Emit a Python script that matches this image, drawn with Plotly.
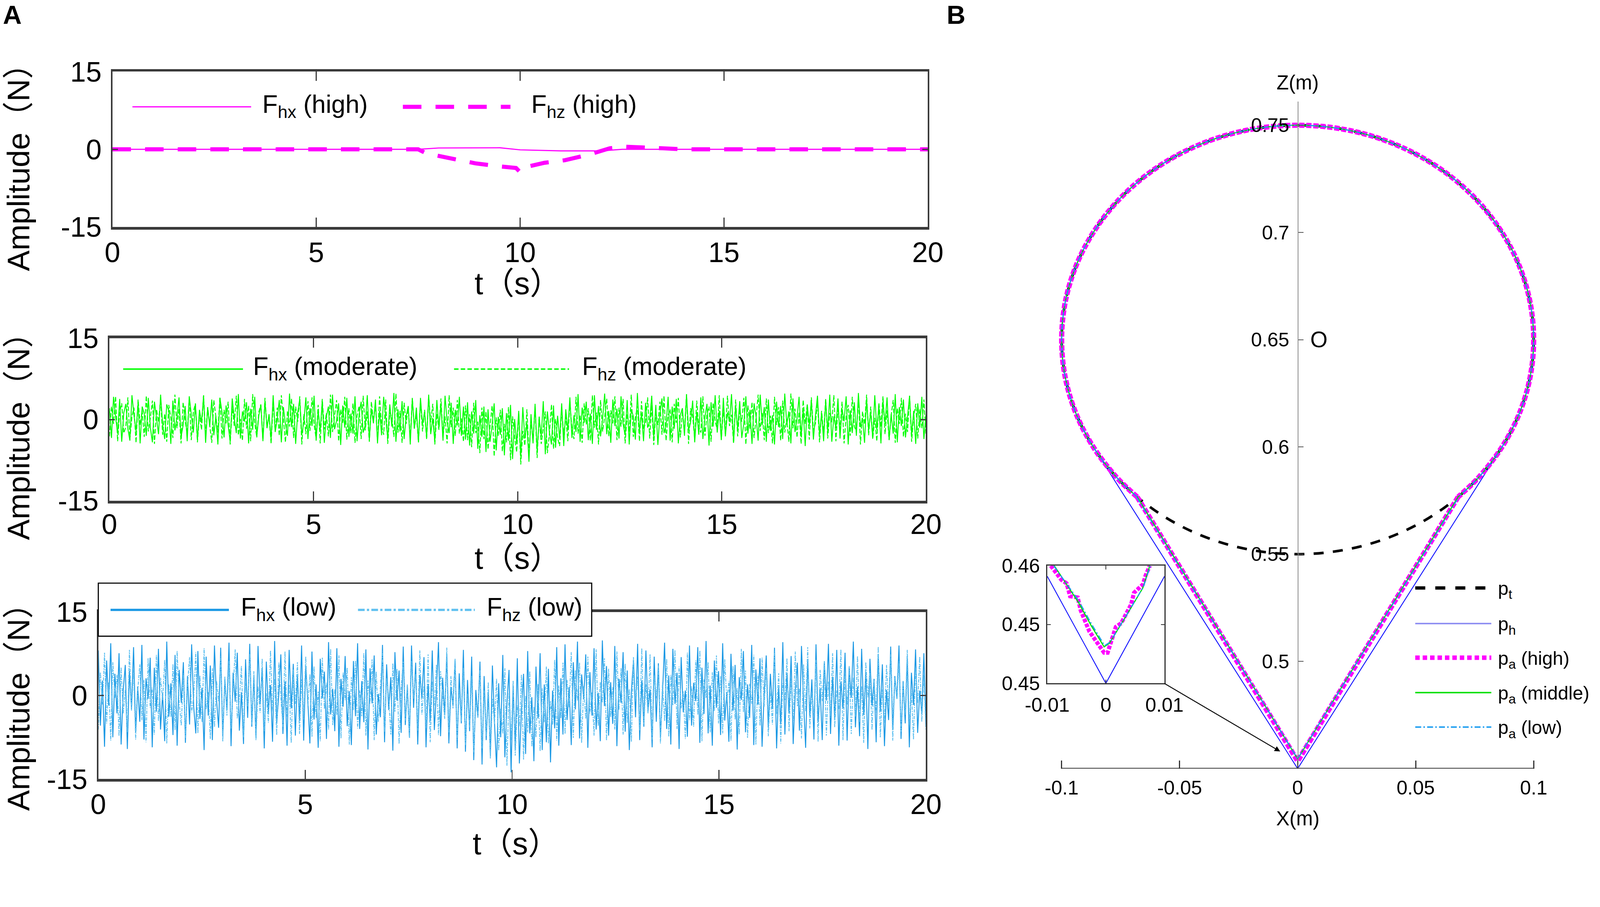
import numpy as np
import plotly.graph_objects as go

W, H = 4313, 2322
FONT = "Liberation Sans, Arial, Noto Sans CJK SC, sans-serif"

# ---------------- Panel A: time series ----------------
t_start, t_end = 0, 20

high_hx_t = [0, 7.5, 8.0, 9.5, 10.0, 11.0, 12.0, 12.5, 20]
high_hx = [0, 0, 0.25, 0.3, -0.1, -0.3, -0.3, 0, 0]
high_hz_t = [0, 7.5, 7.7, 8.2, 8.9, 9.5, 9.9, 10.0, 10.1, 10.6, 11.1, 11.7, 12.2, 12.6, 13.1, 13.5, 14.0, 20]
high_hz = [0, 0, -0.8, -1.6, -2.7, -3.3, -3.6, -4.4, -3.5, -2.6, -2.1, -1.0, 0.2, 0.5, 0.4, 0.2, 0, 0]

mod_hx = [
    2.1,-3.4,4.2,0.5,-2.6,3.8,-4.1,1.2,2.9,-1.7,-3.9,4.5,0.8,-2.2,3.1,-4.4,2.4,1.1,-3.0,4.0,-1.5,-4.2,3.3,0.2,-2.7,
    4.6,-0.9,-3.6,2.8,1.6,-4.5,3.5,-2.0,0.4,4.1,-3.2,-1.1,2.5,-4.0,4.3,0.9,-2.4,3.0,-3.8,1.8,-0.6,4.4,-4.3,2.2,-1.3,
    3.7,-2.9,0.6,-4.6,4.0,1.4,-3.3,2.6,-1.0,-4.1,3.9,0.3,-2.5,4.7,-3.5,1.5,-0.4,3.2,-4.4,2.0,-1.9,4.2,-3.1,0.7,2.7,
    -4.0,3.4,-1.6,1.0,-3.7,4.5,-2.3,0.1,3.6,-4.2,2.3,-0.8,-3.0,4.8,-1.4,2.9,-4.5,1.3,3.8,-2.8,-0.5,4.1,-3.6,2.1,-1.2,
    4.4,-3.9,1.7,-2.1,3.5,-4.3,0.5,2.4,-3.4,4.6,-1.8,-0.2,3.0,-4.7,2.6,-1.5,4.0,-3.2,1.1,-2.6,4.3,-4.0,0.9,3.3,-2.4,
    -1.0,4.5,-3.8,2.0,-0.7,3.7,-4.4,1.6,-2.9,4.2,0.4,-3.5,2.8,-1.3,4.9,-4.1,1.9,-2.2,3.4,-3.6,0.6,2.5,-4.6,3.9,-1.7,
    2.2,-4.2,4.0,-0.9,1.4,-3.3,4.6,-2.7,0.3,-4.0,3.6,-1.6,2.9,-3.9,4.4,-0.4,-2.5,3.1,-4.5,1.8,-1.1,4.2,-3.0,2.4,-3.7,
    3.2,-4.8,1.5,-2.6,3.6,-5.4,0.8,-3.2,2.4,-6.0,1.9,-4.1,-1.0,3.0,-5.7,0.5,-2.8,2.1,-6.6,1.2,-3.9,2.7,-7.3,0.1,-4.5,
    1.6,-6.9,2.3,-3.5,-0.6,-7.8,1.0,-4.4,2.9,-5.8,0.3,-3.1,3.4,-6.4,1.5,-2.3,-4.6,2.6,-5.2,0.7,-3.6,3.0,-4.9,1.9,-2.0,
    4.1,-3.4,0.8,-2.3,4.7,-4.1,2.2,-0.6,3.3,-3.8,1.1,-4.5,4.5,-1.9,2.5,-3.1,0.2,4.8,-2.7,1.6,-4.3,3.7,-1.2,2.0,-3.5,
    4.3,-0.8,-2.9,3.6,-4.6,1.9,0.6,-3.7,4.9,-2.2,1.2,-4.0,3.1,-1.5,-0.3,4.4,-3.3,2.7,-4.7,1.0,3.9,-2.5,-1.1,4.2,-3.9,
    2.4,-1.7,3.8,-4.4,0.9,2.1,-3.0,4.6,-2.0,-0.5,3.5,-4.2,1.4,-2.8,4.1,-3.6,0.4,2.9,-4.8,3.2,-1.3,4.5,-2.4,1.7,-3.8,
    4.0,-3.1,1.3,-0.4,4.7,-4.3,2.6,-1.8,3.4,-3.4,-0.7,4.3,-2.6,1.8,-4.5,3.0,0.5,-3.9,4.6,-1.0,2.3,-4.1,3.7,-2.1,0.8,
    -4.6,3.3,-1.4,2.5,-3.6,4.8,-0.9,1.5,-4.4,3.9,-2.3,0.2,4.2,-3.2,1.9,-4.9,2.8,-1.1,3.6,-3.7,0.7,4.4,-2.8,1.2,-4.0,
    3.5,-2.2,4.6,-4.1,0.6,-1.6,3.9,-3.5,2.0,-0.3,4.3,-4.6,1.7,-2.5,3.2,-3.0,4.9,-1.4,0.3,-4.3,3.8,-2.0,1.4,-3.4,4.5,
    -1.9,2.6,-4.4,3.4,-0.8,4.1,-3.7,1.0,-2.6,4.7,-4.2,2.3,-1.2,3.7,-3.3,0.4,4.4,-2.9,1.6,-4.5,3.0,-1.5,4.2,-3.6,0.9,
]
mod_hz = [
    -3.1,2.4,-0.8,4.3,-4.0,1.3,3.0,-2.5,-1.4,4.1,-3.6,0.6,2.2,-4.3,3.7,-1.0,1.7,-3.2,4.4,-2.2,0.3,3.5,-4.5,1.9,-0.5,
    3.9,-2.8,1.1,-4.1,2.7,0.4,-3.4,4.6,-1.6,2.0,-4.4,3.2,-0.2,-2.6,4.0,-3.8,1.5,2.9,-4.2,0.9,-1.9,4.5,-3.0,2.3,-1.1,
    -4.3,3.6,0.7,-2.4,4.2,-3.5,1.8,-0.7,3.3,-4.6,2.5,-1.2,4.4,-2.9,0.1,-3.9,3.8,-1.7,2.6,-4.0,4.7,-0.6,-3.3,1.4,2.8,
    -3.7,4.0,-1.5,0.8,-4.5,3.1,-2.0,2.2,-3.0,4.5,0.2,-4.2,1.6,-1.3,3.9,-3.4,2.4,-0.4,4.3,-4.6,1.0,-2.7,3.4,-2.1,4.1,
    -0.9,-3.5,2.7,-4.4,3.8,-1.8,1.2,-3.1,4.6,-2.3,0.5,3.6,-4.0,1.9,-0.6,4.2,-3.7,2.1,-2.5,3.0,-4.3,0.7,2.5,-3.6,4.4,
    -2.0,1.5,-4.1,3.3,-0.3,2.8,-3.9,4.3,-1.1,-2.8,3.7,-4.5,1.3,0.4,-3.2,4.8,-2.4,1.6,-4.3,3.1,-0.8,2.4,-3.5,4.0,-1.6,
    0.9,-4.2,3.5,-2.2,1.8,-3.7,4.2,-0.5,2.9,-4.6,1.1,-1.9,3.9,-3.3,0.6,-4.4,4.5,-1.4,2.2,-3.0,3.6,-2.6,0.2,-4.1,2.6,
    -3.8,1.0,-5.1,3.1,-2.5,-0.4,-6.2,2.2,-3.6,1.5,-5.5,-1.2,2.6,-6.8,0.4,-3.0,1.8,-5.9,-0.8,-4.2,2.3,-7.5,0.6,-3.3,-6.0,
    1.2,-8.3,-2.1,-4.8,1.9,-6.6,-0.2,-3.9,2.4,-7.1,0.7,-4.5,-1.6,1.5,-6.2,-2.7,2.8,-5.4,0.1,-3.4,-4.9,2.0,-2.9,0.6,-4.0,
    3.3,-1.8,-3.6,4.2,-2.6,0.8,-4.3,3.0,-0.9,2.1,-3.9,4.5,-1.5,1.3,-4.6,3.6,-2.2,0.5,3.9,-3.1,1.7,-0.7,4.3,-3.8,2.2,
    -1.3,3.8,-4.4,1.1,-2.3,4.6,-3.2,0.3,2.5,-4.0,3.4,-1.9,-0.5,4.1,-3.5,2.7,-4.7,1.4,-1.0,3.3,-2.8,4.4,-3.9,0.8,1.9,
    -4.2,2.9,-0.6,4.0,-3.3,1.5,-2.0,4.7,-4.5,2.1,0.6,-3.6,3.5,-1.4,-2.4,4.3,-3.0,1.0,2.4,-4.1,3.1,-0.3,-1.8,4.5,-3.7,
    2.0,-2.7,4.4,-1.2,0.9,-4.3,3.7,-3.1,1.8,-0.4,4.0,-4.6,2.6,-1.7,3.2,-3.4,0.4,4.6,-2.1,1.2,-3.8,3.9,-2.5,0.7,-4.4,
    4.2,-1.0,2.3,-3.9,3.5,-2.4,0.1,-4.1,4.8,-1.6,2.0,-3.3,1.4,-4.5,3.6,-0.8,2.8,-3.7,4.1,-2.0,-0.7,3.4,-4.2,1.6,-2.6,
    3.9,-3.5,1.2,-0.5,4.5,-4.0,2.2,-1.9,3.3,-4.4,0.5,2.7,-3.0,4.2,-1.3,-2.2,3.8,-4.6,1.5,-0.9,4.6,-2.9,2.4,-3.6,0.3,
    -4.0,3.1,-1.4,4.3,-2.7,1.7,-3.8,0.8,3.6,-4.3,2.1,-0.8,4.0,-3.2,1.1,-2.3,4.4,-4.1,0.6,2.9,-3.5,1.9,-1.6,3.7,-2.8,
]
low_hx = [
    8.1,-5.4,2.7,-9.2,6.3,-1.8,9.4,-7.5,3.9,-3.2,7.6,-8.8,0.9,5.5,-9.6,4.4,-2.4,8.7,-6.6,1.6,-4.7,9.1,-7.9,3.1,-0.6,
    6.8,-9.3,5.0,-2.9,8.4,-6.1,0.4,-8.2,9.7,-3.8,2.2,-7.1,7.3,-9.0,4.6,-1.3,6.0,-8.5,3.5,-5.2,9.2,-2.1,-6.8,8.0,-4.2,
    1.4,-9.8,7.0,-3.6,5.4,-8.0,9.0,-0.8,-5.8,8.6,-7.4,2.9,-2.7,9.5,-9.1,4.1,-1.1,7.7,-6.3,0.6,-8.7,6.5,-4.0,9.3,-5.6,
    3.4,-7.7,8.9,-1.6,4.8,-9.5,6.1,-3.1,1.9,-8.3,9.8,-5.0,0.2,7.4,-6.9,2.5,-9.0,8.2,-2.3,5.7,-7.2,3.6,-4.5,9.0,-8.1,
    5.2,-1.0,-8.6,7.9,-4.3,2.0,-9.4,6.6,-0.5,4.3,-7.8,9.6,-3.4,1.2,-6.4,8.5,-9.2,3.0,-2.0,7.1,-5.5,0.8,-8.9,6.2,-3.7,
    9.4,-6.0,2.6,-4.8,8.3,-9.7,4.9,-1.4,7.2,-7.0,0.3,-3.9,9.1,-8.4,5.6,-2.6,3.3,-9.9,7.8,-0.9,4.5,-6.7,8.8,-5.3,1.7,
    -7.6,9.0,-2.2,5.9,-8.8,3.7,-0.4,6.9,-9.3,2.1,-4.6,8.1,-6.2,0.7,9.6,-7.3,3.2,-3.5,7.5,-8.6,1.5,-1.9,6.4,-9.5,4.0,
    -5.0,8.2,-10.1,2.8,-6.4,7.0,-11.6,1.0,-3.8,6.1,-12.4,3.5,-8.0,0.6,-10.8,5.4,-4.9,-12.9,2.2,-7.5,7.3,-11.1,-1.4,4.6,-13.8,
    1.8,-9.6,6.7,-12.2,-2.6,3.9,-10.5,8.0,-6.8,-0.3,-11.8,5.2,-4.1,7.6,-9.8,2.0,-8.4,4.8,-12.0,0.9,-5.9,8.7,-9.0,3.1,-7.0,
    9.2,-4.4,1.5,-8.9,6.0,-2.5,9.7,-7.7,3.8,-0.7,7.4,-9.4,4.2,-3.6,8.5,-6.1,0.5,-8.2,9.9,-1.9,5.3,-7.2,2.4,-5.1,8.9,
    -9.1,3.0,-1.3,7.8,-6.5,4.5,-9.8,0.8,6.4,-3.9,9.3,-8.0,2.7,-5.6,8.1,-2.8,1.1,-9.3,7.0,-4.7,5.8,-7.6,0.4,9.5,-6.0,
    3.6,-8.8,8.4,-1.5,4.1,-9.6,6.9,-3.0,0.9,-7.4,9.0,-5.4,2.3,-1.0,8.7,-8.5,5.0,-3.3,9.8,-6.8,1.8,-9.0,6.3,-2.2,4.4,
    -7.1,9.4,-4.5,0.6,-8.3,7.5,-2.7,5.5,-9.7,3.3,-0.8,8.0,-6.6,2.0,-4.0,9.1,-8.9,4.7,-1.6,6.7,-9.2,0.2,7.2,-5.8,3.9,
    -2.4,8.6,-9.5,1.4,-5.2,9.6,-7.0,4.0,-3.1,7.1,-8.7,0.5,5.9,-6.3,8.9,-1.2,-9.4,6.5,-3.7,2.9,-7.9,9.2,-4.8,1.3,-8.0,
    6.1,-0.9,9.3,-6.9,3.4,-4.1,8.2,-9.0,2.5,-2.3,7.7,-8.1,5.1,-0.4,9.7,-5.7,1.6,-7.3,8.4,-3.5,4.3,-9.6,6.6,-1.8,3.0,
    -8.4,7.4,-2.9,5.6,-9.1,1.0,-4.4,8.8,-6.2,3.5,-0.6,9.0,-7.8,2.6,-5.0,6.8,-9.3,4.1,-1.7,8.3,-6.7,0.9,-3.4,7.6,-5.5,
]
low_hz = [
    -6.1,4.2,-1.6,7.7,-5.0,2.4,-8.1,6.0,-0.5,3.7,-7.3,5.1,-3.3,1.0,-6.6,8.2,-2.7,4.6,-7.9,0.8,5.6,-4.4,2.8,-8.4,6.7,
    -2.2,1.4,-7.0,7.3,-4.6,3.2,-0.9,6.4,-8.6,2.0,-3.9,5.7,-6.2,8.0,-1.3,-5.4,4.0,-7.6,1.8,6.9,-3.0,-0.2,7.8,-6.8,3.6,
    -4.8,8.5,-2.5,0.6,-7.8,4.9,-5.7,2.6,-1.1,7.1,-8.3,3.4,-3.6,6.2,-6.0,1.2,8.3,-4.1,-0.7,5.3,-7.5,2.2,-2.0,7.5,-5.2,
    4.4,-8.0,1.6,-3.1,6.6,-6.4,0.4,-4.9,8.1,-2.8,3.0,-7.1,5.9,-0.3,-5.6,7.9,-3.8,1.9,-8.5,4.7,-1.5,6.0,-6.9,2.9,-4.3,
    7.0,-1.9,3.8,-7.4,5.2,-4.0,0.7,-8.2,6.8,-2.4,2.3,-6.1,8.4,-5.3,1.1,-3.5,7.2,-7.7,4.1,-0.8,5.0,-8.8,3.3,-2.6,6.3,
    -5.9,0.9,-3.7,7.6,-7.2,2.7,-1.4,6.5,-8.0,4.3,-4.7,1.5,8.0,-6.5,3.1,-0.4,-7.0,5.8,-2.9,4.8,-8.7,1.3,6.1,-4.5,2.0,
    -7.7,6.2,-0.6,3.9,-6.3,8.1,-3.4,1.7,-5.8,7.4,-8.4,2.5,-1.8,5.5,-7.1,4.4,0.2,-4.2,8.6,-6.7,3.5,-2.3,6.6,-7.9,1.0,
    -4.6,5.0,-8.9,0.3,-5.7,3.6,-10.2,-1.1,-4.0,4.6,-9.5,0.9,-7.3,2.4,-11.3,-0.6,-5.1,3.0,-9.9,-2.3,-6.8,4.9,-12.6,0.5,-8.0,
    2.7,-10.8,-1.8,-5.5,3.8,-11.5,0.0,-6.6,4.4,-9.2,-2.0,-7.5,2.1,-10.0,1.3,-4.8,5.2,-8.6,-1.0,-5.3,6.4,-8.1,1.8,-4.1,5.9,
    -6.9,2.8,-2.1,7.8,-7.6,4.5,-0.9,5.9,-8.5,1.7,-4.2,7.0,-3.2,0.6,-7.2,8.3,-5.5,2.4,-1.3,6.7,-8.1,4.8,-3.9,1.5,-6.1,
    7.9,-2.6,4.9,-7.0,5.7,-4.9,1.2,-8.3,6.9,-1.0,3.4,-6.3,8.5,-5.1,2.0,-3.2,7.4,-7.9,3.6,-0.5,5.4,-8.6,2.3,-4.6,6.6,
    -7.4,3.7,-1.7,8.2,-6.0,5.2,-2.3,0.8,-7.8,7.7,-4.4,1.6,-5.6,6.3,-3.5,8.1,-8.2,2.9,-0.4,6.0,-6.6,4.2,-2.8,7.2,-5.0,
    3.5,-6.8,6.5,-1.2,2.6,-8.1,5.3,-4.3,1.4,-7.0,8.4,-3.0,4.5,-7.6,2.1,-1.5,7.3,-8.8,3.9,-5.4,6.8,-2.0,5.0,-7.3,0.7,
    -5.2,8.0,-3.3,4.0,-8.6,2.2,-0.8,6.7,-6.4,3.1,-4.5,7.9,-1.9,1.3,-7.7,5.6,-2.9,8.7,-5.9,0.4,-3.6,6.4,-8.3,4.6,-1.0,
    6.2,-7.2,2.5,-4.0,7.6,-5.7,0.9,-2.5,8.3,-8.0,4.1,-1.6,5.3,-6.9,3.2,-3.8,7.1,-4.8,1.7,-8.5,6.0,-0.3,4.4,-6.2,2.7,
    -3.0,8.8,-7.5,1.1,-4.9,5.5,-2.2,7.4,-8.1,3.3,-0.6,6.1,-6.5,2.5,-3.4,8.2,-5.3,0.8,-7.9,4.9,-1.4,7.0,-4.7,3.7,-6.3,
]
t_mod = np.linspace(t_start, t_end, len(mod_hx))
t_low = np.linspace(t_start, t_end, len(low_hx))

# ---------------- Panel B: trajectories ----------------
pt_center = (0.0, 0.65)
pt_radius = 0.1

ph_arc_x = [-0.0866, -0.0940, -0.0985, -0.1000, -0.0985, -0.0940, -0.0866, -0.0766, -0.0643, -0.0500, -0.0342, -0.0174, 0.0,
            0.0174, 0.0342, 0.0500, 0.0643, 0.0766, 0.0866, 0.0940, 0.0985, 0.1000, 0.0985, 0.0940, 0.0866]
ph_arc_z = [0.6000, 0.6158, 0.6326, 0.6500, 0.6674, 0.6842, 0.7000, 0.7143, 0.7266, 0.7366, 0.7440, 0.7485, 0.7500,
            0.7485, 0.7440, 0.7366, 0.7266, 0.7143, 0.7000, 0.6842, 0.6674, 0.6500, 0.6326, 0.6158, 0.6000]
ph_v_x = [-0.0866, 0.0, 0.0866]
ph_v_z = [0.6000, 0.4500, 0.6000]

pa_arc_x = [-0.0680, -0.0766] + ph_arc_x + [0.0766, 0.0680]
pa_arc_z = [0.5767, 0.5857] + ph_arc_z + [0.5857, 0.5767]
pa_high_v_x = [-0.0680, 0.0, 0.0680]
pa_high_v_z = [0.5767, 0.4535, 0.5767]
pa_mid_v_x = [-0.0680, 0.0, 0.0680]
pa_mid_v_z = [0.5767, 0.4545, 0.5767]
pa_low_v_x = [-0.0682, 0.0, 0.0682]
pa_low_v_z = [0.5765, 0.4546, 0.5765]

# inset (zoom of the bottom vertex)
ins_ph_x = [-0.01, 0.0, 0.01]
ins_ph_z = [0.4591, 0.4500, 0.4591]
ins_high_x = [-0.0094, -0.0076, -0.0067, -0.0061, -0.0048, -0.0043, -0.0028, -0.0014, -0.0003, 0.0003,
              0.0008, 0.0017, 0.0026, 0.0037, 0.0043, 0.0048, 0.0063, 0.0068, 0.0075]
ins_high_z = [0.4600, 0.4588, 0.4585, 0.4574, 0.4573, 0.4562, 0.4544, 0.4534, 0.4526, 0.4526,
              0.4534, 0.4548, 0.4551, 0.4562, 0.4567, 0.4577, 0.4584, 0.4592, 0.4600]
ins_mid_x = [-0.0088, -0.0047, -0.0025, -0.0003, 0.0006, 0.0033, 0.0063, 0.0075]
ins_mid_z = [0.4600, 0.4569, 0.4549, 0.4531, 0.4534, 0.4556, 0.4581, 0.4600]
ins_low_x = [-0.0089, -0.0046, -0.0024, -0.0002, 0.0007, 0.0034, 0.0064, 0.0076]
ins_low_z = [0.4600, 0.4570, 0.4550, 0.4532, 0.4535, 0.4557, 0.4582, 0.4600]

MAG = "#ff00ff"
GRN = "#00e000"
BLU = "#1a1aff"
CYN = "#1a9cf0"
LOW1 = "#1a98e4"
LOW2 = "#5fc0f0"
LOWDASH = "16px,6px,4px,6px"

fig = go.Figure()


def add(x, y, xa, ya, color, width, dash="solid", shape="linear"):
    fig.add_trace(go.Scatter(x=x, y=y, xaxis=xa, yaxis=ya, mode="lines",
                             line=dict(color=color, width=width, dash=dash, shape=shape),
                             showlegend=False, hoverinfo="skip"))


# A1
add(high_hx_t, high_hx, "x", "y", MAG, 3)
add(high_hz_t, high_hz, "x", "y", MAG, 11, "50px,38px")
# A2
add(t_mod, mod_hx, "x2", "y2", "#00ff00", 2.5)
add(t_mod, mod_hz, "x2", "y2", "#00ff00", 2.5, "12px,5px")
# A3
add(t_low, low_hx, "x3", "y3", LOW1, 2.5)
add(t_low, low_hz, "x3", "y3", LOW2, 2.5, "dashdot")
# B main
add(ph_v_x, ph_v_z, "x4", "y4", BLU, 2.5)
add(ph_arc_x, ph_arc_z, "x4", "y4", BLU, 2.5, shape="spline")
add(pa_high_v_x, pa_high_v_z, "x4", "y4", MAG, 14, "14px,5px")
add(pa_arc_x, pa_arc_z, "x4", "y4", MAG, 14, "14px,5px", shape="spline")
add(pa_mid_v_x, pa_mid_v_z, "x4", "y4", GRN, 3)
add(pa_arc_x, pa_arc_z, "x4", "y4", GRN, 3, shape="spline")
add(pa_low_v_x, pa_low_v_z, "x4", "y4", CYN, 3, LOWDASH)
add(pa_arc_x, pa_arc_z, "x4", "y4", CYN, 3, LOWDASH, shape="spline")
# inset
add(ins_ph_x, ins_ph_z, "x5", "y5", BLU, 2.5)
add(ins_high_x, ins_high_z, "x5", "y5", MAG, 11, "10px,4px")
add(ins_mid_x, ins_mid_z, "x5", "y5", GRN, 3)
add(ins_low_x, ins_low_z, "x5", "y5", CYN, 3, LOWDASH)


def PX(v):
    return v / W


def PY(v):
    return 1 - v / H


AX_COL = "#3a3a3a"


def a_axes(suffix, x0, x1, y0, y1, xstand=-4):
    xa = dict(domain=[PX(x0), PX(x1)], range=[0, 20], tickvals=[0, 5, 10, 15, 20],
              ticktext=["0", "5", "10", "15", "20"], ticks="inside", ticklen=25, tickwidth=3,
              tickcolor=AX_COL, showline=True, linewidth=7, linecolor=AX_COL, mirror="ticks",
              showgrid=False, zeroline=False, tickfont=dict(size=76), ticklabelstandoff=xstand,
              anchor="y" + suffix, automargin=False)
    ya = dict(domain=[PY(y1), PY(y0)], range=[-15, 15], tickvals=[-15, 0, 15],
              ticktext=["-15", "0", "15"], ticks="inside", ticklen=15, tickwidth=3,
              tickcolor=AX_COL, showline=True, linewidth=4, linecolor=AX_COL, mirror="ticks",
              showgrid=False, zeroline=False, tickfont=dict(size=76), ticklabelstandoff=10,
              anchor="x" + suffix, automargin=False)
    return xa, ya


xa1, ya1 = a_axes("", 303, 2501, 193, 612)
xa2, ya2 = a_axes("2", 295, 2496, 912, 1350, xstand=-9)
xa3, ya3 = a_axes("3", 265, 2496, 1650, 2100)

xa4 = dict(domain=[PX(2830), PX(4166)], range=[-0.105, 0.105],
           tickvals=[-0.1, -0.05, 0, 0.05, 0.1], ticktext=["-0.1", "-0.05", "0", "0.05", "0.1"],
           ticks="inside", ticklen=22, tickwidth=3, tickcolor="#333", showline=False,
           showgrid=False, zeroline=False, tickfont=dict(size=53), ticklabelstandoff=16, anchor="y4",
           automargin=False)
ya4 = dict(domain=[PY(2072), PY(274)], range=[0.45, 0.761],
           tickvals=[0.5, 0.55, 0.6, 0.65, 0.7, 0.75], ticktext=["0.5", "0.55", "0.6", "0.65", "0.7", "0.75"],
           ticks="inside", ticklen=14, tickwidth=2, tickcolor="#555", showline=True, linewidth=2,
           linecolor="#8a8a8a", showgrid=False, zeroline=False, tickfont=dict(size=53),
           ticklabelstandoff=12, anchor="free", position=PX(3499), automargin=False)
xa5 = dict(domain=[PX(2823), PX(3139)], range=[-0.01, 0.01], tickvals=[-0.01, 0, 0.01],
           ticktext=["-0.01", "0", "0.01"], ticks="inside", ticklen=10, tickwidth=2, tickcolor="#333",
           showline=True, linewidth=3, linecolor="#333", mirror="ticks", showgrid=False, zeroline=False,
           tickfont=dict(size=53), ticklabelstandoff=10, anchor="y5", automargin=False)
ya5 = dict(domain=[PY(1842), PY(1525)], range=[0.45, 0.46], tickvals=[0.45, 0.455, 0.46],
           ticktext=["0.45", "0.45", "0.46"], ticks="inside", ticklen=10, tickwidth=2, tickcolor="#333",
           showline=True, linewidth=3, linecolor="#333", mirror="ticks", showgrid=False, zeroline=False,
           tickfont=dict(size=53), ticklabelstandoff=6, anchor="x5", automargin=False)

shapes = []
annotations = []


def pline(x0, x1, y, color, width, dash="solid"):
    shapes.append(dict(type="line", xref="paper", yref="paper", x0=PX(x0), x1=PX(x1), y0=PY(y), y1=PY(y),
                       line=dict(color=color, width=width, dash=dash), layer="above"))


def ptext(x, y, text, size, xanchor="left", angle=0, bold=False):
    if bold:
        text = "<b>" + text + "</b>"
    annotations.append(dict(x=PX(x), y=PY(y), xref="paper", yref="paper", text=text, showarrow=False,
                            xanchor=xanchor, yanchor="middle", textangle=angle,
                            font=dict(size=size, family=FONT, color="black")))


# p_t circle (dashed)
shapes.append(dict(type="circle", xref="x4", yref="y4",
                   x0=pt_center[0] - pt_radius, x1=pt_center[0] + pt_radius,
                   y0=pt_center[1] - pt_radius, y1=pt_center[1] + pt_radius,
                   line=dict(color="black", width=7, dash="27px,25px"), layer="below"))
# B x-axis line
shapes.append(dict(type="line", xref="x4", yref="y4", x0=-0.1, x1=0.1, y0=0.45, y1=0.45,
                   line=dict(color="#333", width=4), layer="above"))

# A1 legend
pline(357, 677, 288, MAG, 3)
ptext(705, 285, "F<sub>hx</sub> (high)", 68)
pline(1086, 1376, 288, MAG, 11, "50px,38px")
ptext(1430, 285, "F<sub>hz</sub> (high)", 68)
# A2 legend
pline(332, 655, 995, "#00ff00", 4)
ptext(680, 992, "F<sub>hx</sub> (moderate)", 68)
pline(1224, 1534, 995, "#00ff00", 4, "12px,6px")
ptext(1567, 992, "F<sub>hz</sub> (moderate)", 68)
# A3 legend (boxed)
shapes.append(dict(type="rect", xref="paper", yref="paper", x0=PX(265), x1=PX(1595), y0=PY(1715), y1=PY(1572),
                   fillcolor="white", line=dict(color="black", width=3), layer="above"))
pline(298, 617, 1644, LOW1, 6)
ptext(647, 1641, "F<sub>hx</sub> (low)", 68)
pline(965, 1280, 1644, LOW2, 6, "dashdot")
ptext(1310, 1641, "F<sub>hz</sub> (low)", 68)
# B legend
pline(3815, 4020, 1585, "black", 9, "27px,27px")
ptext(4036, 1590, "p<sub>t</sub>", 51)
pline(3815, 4020, 1681, "#8a8af2", 4)
ptext(4036, 1686, "p<sub>h</sub>", 51)
pline(3815, 4020, 1773, MAG, 12, "12px,8px")
ptext(4036, 1778, "p<sub>a</sub> (high)", 51)
pline(3815, 4020, 1867, GRN, 4)
ptext(4036, 1872, "p<sub>a</sub> (middle)", 51)
pline(3815, 4020, 1960, CYN, 4, LOWDASH)
ptext(4036, 1965, "p<sub>a</sub> (low)", 51)

# axis titles and labels
for yc in (430, 1155, 1885):
    ptext(50, yc, "Amplitude（N）", 84, xanchor="center", angle=-90)
ptext(1395, 764, "t（s）", 84, xanchor="center")
ptext(1395, 1504, "t（s）", 84, xanchor="center")
ptext(1390, 2274, "t（s）", 84, xanchor="center")
ptext(33, 40, "A", 70, xanchor="center", bold=True)
ptext(2577, 40, "B", 70, xanchor="center", bold=True)
ptext(3498, 222, "Z(m)", 54, xanchor="center")
ptext(3498, 2206, "X(m)", 54, xanchor="center")
annotations.append(dict(x=0.009, y=0.65, xref="x4", yref="y4", text="O", showarrow=False,
                        xanchor="center", yanchor="middle", font=dict(size=60, family=FONT, color="black")))
# arrow from inset to vertex
annotations.append(dict(x=-0.0074, y=0.458, xref="x4", yref="y4", ax=-0.0566, ay=0.4898,
                        axref="x4", ayref="y4", text="", showarrow=True, arrowhead=2, arrowsize=1.2,
                        arrowwidth=2.5, arrowcolor="black"))

fig.update_layout(
    template="none",
    width=W, height=H, margin=dict(l=0, r=0, t=0, b=0, pad=0), autosize=False,
    paper_bgcolor="white", plot_bgcolor="white", showlegend=False,
    font=dict(family=FONT, color="black"),
    xaxis=xa1, yaxis=ya1, xaxis2=xa2, yaxis2=ya2, xaxis3=xa3, yaxis3=ya3,
    xaxis4=xa4, yaxis4=ya4, xaxis5=xa5, yaxis5=ya5,
    shapes=shapes, annotations=annotations,
)

# fit the fixed-size figure into whatever viewport the page is shown in
FIT_JS = """
var gd = document.getElementById('{plot_id}');
document.documentElement.style.margin = '0';
document.body.style.margin = '0';
document.body.style.overflow = 'hidden';
var s = Math.min(window.innerWidth / %d, window.innerHeight / %d);
if (s > 0 && Math.abs(s - 1) > 0.002) {
  gd.style.transformOrigin = '0 0';
  gd.style.transform = 'scale(' + s + ')';
}
""" % (W, H)

fig.write_html("out.html", post_script=FIT_JS, config={"displayModeBar": False})
